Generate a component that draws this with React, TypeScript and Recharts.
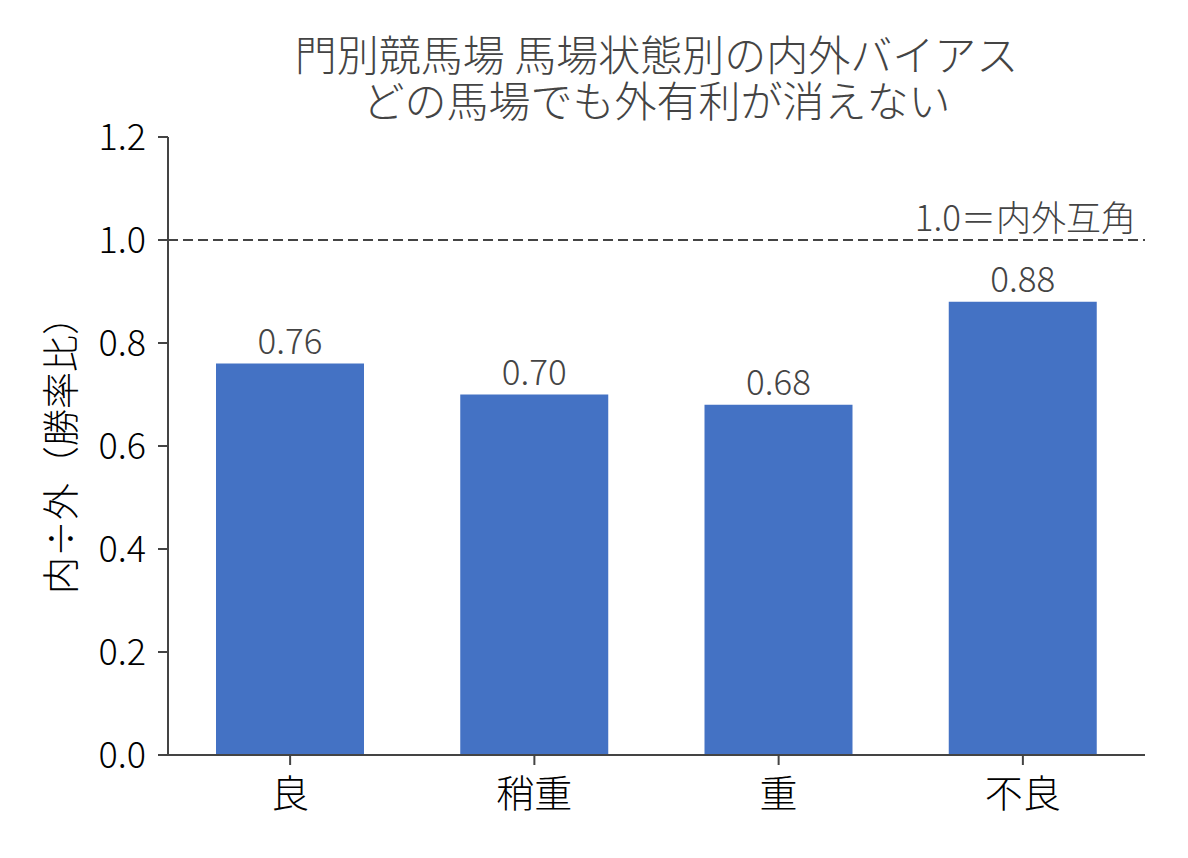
import { BarChart, Bar, XAxis, YAxis, ReferenceLine, LabelList, Label } from "recharts";

const categories = ["良", "稍重", "重", "不良"];
const ratios = [0.76, 0.7, 0.68, 0.88];
const yTicks = [0, 0.2, 0.4, 0.6, 0.8, 1.0, 1.2];

const FONT = '"Noto Sans CJK JP", "Noto Sans", sans-serif';
const BAR_COLOR = "#4472C4";
const DARK = "#444444";

const data = categories.map((c, i) => ({ name: c, value: ratios[i] }));

export default function App() {
    return (
        <div style={{ position: "absolute", left: 0, top: 0, width: 1188, height: 858, background: "#fff", fontFamily: FONT }}>
            <div
                style={{
                    position: "absolute",
                    left: 100,
                    width: 1113,
                    top: 30,
                    textAlign: "center",
                    color: DARK,
                    fontSize: 42,
                    lineHeight: "46px",
                    fontWeight: 300,
                }}
            >
                <div>門別競馬場 馬場状態別の内外バイアス</div>
                <div>どの馬場でも外有利が消えない</div>
            </div>
            <BarChart
                width={1188}
                height={858}
                data={data}
                margin={{ top: 137, right: 43, bottom: 0, left: 0 }}
                style={{ position: "absolute", left: 0, top: 0, fontFamily: FONT }}
            >
                <XAxis
                    dataKey="name"
                    height={103}
                    stroke={DARK}
                    strokeWidth={2}
                    tickSize={10}
                    tick={{ fill: "#000", fontSize: 38, fontWeight: 300 }}
                    tickMargin={15}
                />
                <YAxis
                    domain={[0, 1.2]}
                    ticks={yTicks}
                    width={168}
                    stroke={DARK}
                    strokeWidth={2}
                    tickSize={10}
                    tickMargin={12}
                    tick={{ fill: "#000", fontSize: 36, fontWeight: 300 }}
                    tickFormatter={(v: number) => v.toFixed(1)}
                    interval={0}
                >
                    <Label
                        value="内÷外（勝率比）"
                        angle={-90}
                        position="insideLeft"
                        offset={62}
                        style={{ textAnchor: "middle", fill: "#000", fontSize: 37, fontWeight: 300 }}
                    />
                </YAxis>
                <ReferenceLine
                    y={1.0}
                    stroke={DARK}
                    strokeWidth={2}
                    strokeDasharray="10 5"
                    label={{
                        value: "1.0＝内外互角",
                        position: "insideBottomRight",
                        offset: 9,
                        fill: DARK,
                        fontSize: 35,
                        fontWeight: 300,
                    }}
                />
                <Bar dataKey="value" fill={BAR_COLOR} barSize={148} isAnimationActive={false}>
                    <LabelList
                        dataKey="value"
                        position="top"
                        offset={10}
                        formatter={(v: number) => v.toFixed(2)}
                        style={{ fill: DARK, fontSize: 35, fontWeight: 300 }}
                    />
                </Bar>
            </BarChart>
        </div>
    );
}
